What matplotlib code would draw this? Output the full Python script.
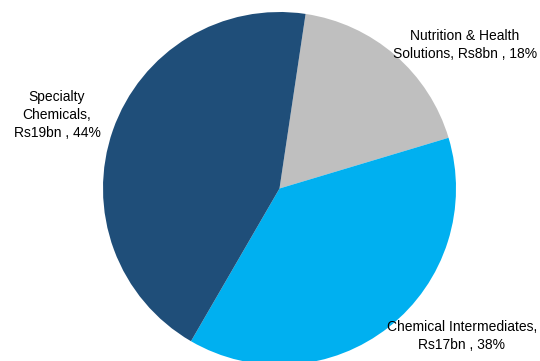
import matplotlib
matplotlib.use("Agg")
from matplotlib import pyplot as plt

# dados do grafico
segmentos = ["Nutrition & Health\nSolutions", "Chemical Intermediates", "Specialty\nChemicals"]
receita_bn = [8, 17, 19]
participacao = [18, 38, 44]
cores = ["#BFBFBF", "#00B0F0", "#1F4E79"]

plt.rcParams["font.family"] = ["Liberation Sans", "DejaVu Sans"]

fig = plt.figure(figsize=(5.4, 3.61), dpi=100)
ax = fig.add_axes([103 / 540, -4 / 361, 353 / 540, 353 / 361])

ax.pie(participacao, colors=cores, startangle=81.5, counterclock=False,
       wedgeprops={"linewidth": 0}, radius=1)
ax.set_xlim(-1, 1)
ax.set_ylim(-1, 1)
ax.axis("off")

# rotulos (posicao em pixels da figura)
rotulos = [
    segmentos[0] + ", Rs%dbn , %d%%" % (receita_bn[0], participacao[0]),
    segmentos[1] + ",\nRs%dbn , %d%%" % (receita_bn[1], participacao[1]),
    segmentos[2] + ",\nRs%dbn , %d%%" % (receita_bn[2], participacao[2]),
]
posicoes = [(465, 45), (462, 336), (57, 115)]

for texto, (px, py) in zip(rotulos, posicoes):
    fig.text(px / 540, 1 - py / 361, texto, ha="center", va="center",
             fontsize=10, color="black", linespacing=1.35)

fig.savefig("out.png", dpi=100)
